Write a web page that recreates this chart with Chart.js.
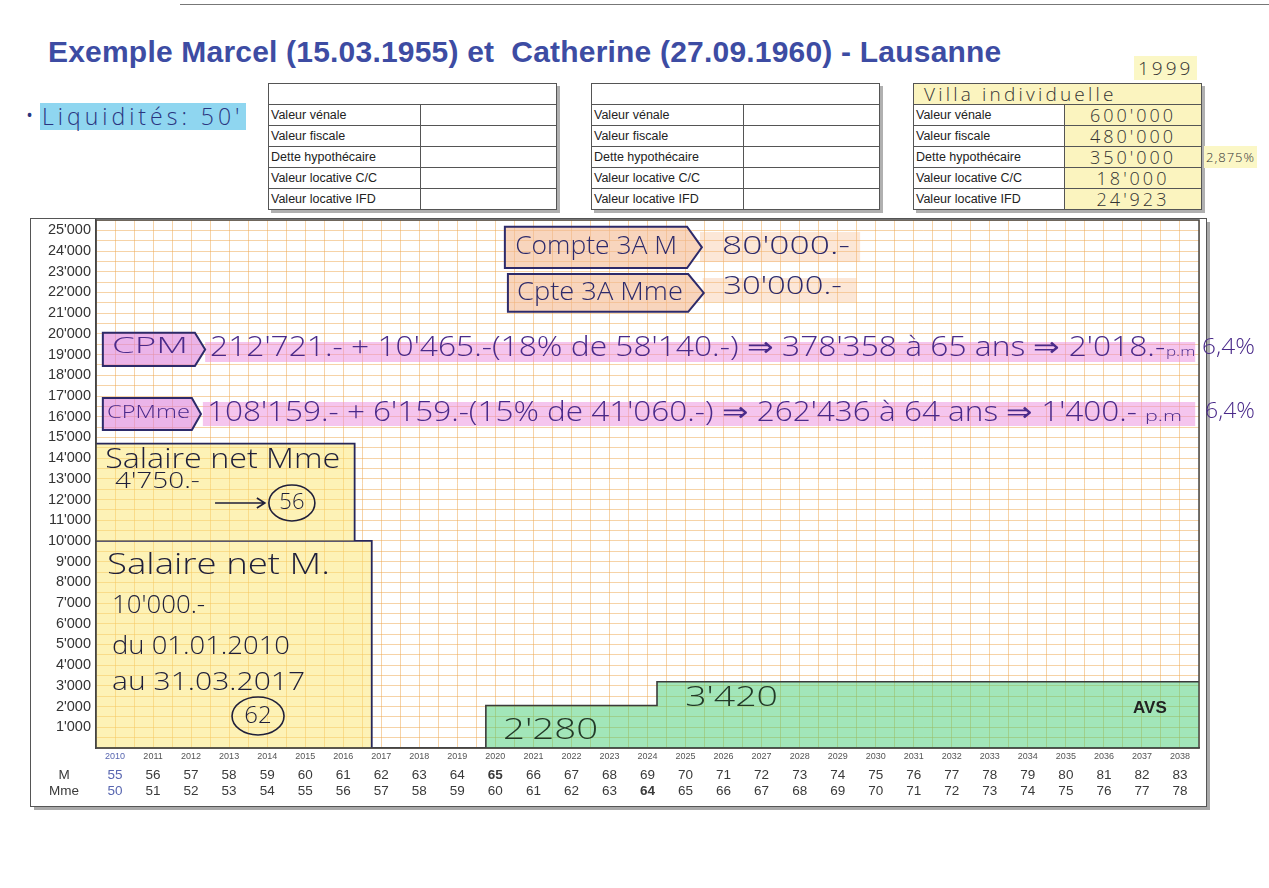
<!DOCTYPE html>
<html><head><meta charset="utf-8">
<script src="https://cdn.jsdelivr.net/npm/chart.js@4.4.1/dist/chart.umd.min.js"></script>
<style>
html,body{margin:0;padding:0;background:#fff;}
body{width:1269px;height:888px;position:relative;overflow:hidden;font-family:"Liberation Sans",Arial,sans-serif;}
#c{position:absolute;left:0;top:0;z-index:2;pointer-events:none;}
.edge{position:absolute;left:180px;top:4px;width:1089px;height:0;border-top:1px solid #777;}
.title{position:absolute;left:48px;top:35px;font-weight:bold;font-size:30px;color:#3d4ca3;white-space:pre;letter-spacing:0.2px;}
table.t{position:absolute;border-collapse:collapse;box-shadow:3px 3px 0 #b0b0b0;background:#fff;table-layout:fixed;}
table.t td{border:1px solid #555;height:20px;padding:0 2px;font-size:12.5px;color:#222;line-height:20px;white-space:nowrap;overflow:hidden;}
.hw{font-family:"Open Sans","DejaVu Sans",sans-serif;font-weight:300;color:#333;white-space:nowrap;}
.abs{position:absolute;}
td.y{background:#fbf4bf;}
td.v{text-align:center;font-family:"Open Sans","DejaVu Sans",sans-serif;font-weight:300;font-size:18px !important;letter-spacing:3px;color:#333 !important;}
</style></head>
<body>
<div class="edge"></div>
<div class="title">Exemple Marcel (15.03.1955) et  Catherine (27.09.1960) - Lausanne</div>
<div class="abs hw" style="left:1134px;top:56px;font-size:19px;letter-spacing:3px;background:#fbf7c6;padding:0 4px;line-height:24px;">1999</div>
<div class="abs hw" style="left:25px;top:100px;font-size:24px;color:#2a3580;line-height:30px;">•</div>
<div class="abs hw" style="left:40px;top:103px;font-size:23px;letter-spacing:4px;color:#2a3580;background:#8fd6f0;line-height:27px;padding:0 2px 0 2px;">Liquidités: 50'</div>

<table class="t" style="left:268px;top:83px;width:288px;">
<colgroup><col style="width:152px"><col style="width:136px"></colgroup>
<tr><td colspan="2"></td></tr>
<tr><td>Valeur vénale</td><td></td></tr>
<tr><td>Valeur fiscale</td><td></td></tr>
<tr><td>Dette hypothécaire</td><td></td></tr>
<tr><td>Valeur locative C/C</td><td></td></tr>
<tr><td>Valeur locative IFD</td><td></td></tr>
</table>
<table class="t" style="left:591px;top:83px;width:288px;">
<colgroup><col style="width:152px"><col style="width:136px"></colgroup>
<tr><td colspan="2"></td></tr>
<tr><td>Valeur vénale</td><td></td></tr>
<tr><td>Valeur fiscale</td><td></td></tr>
<tr><td>Dette hypothécaire</td><td></td></tr>
<tr><td>Valeur locative C/C</td><td></td></tr>
<tr><td>Valeur locative IFD</td><td></td></tr>
</table>
<table class="t" style="left:913px;top:83px;width:288px;">
<colgroup><col style="width:151px"><col style="width:137px"></colgroup>
<tr><td colspan="2" class="y hw" style="font-size:19px;letter-spacing:3.2px;color:#333;padding-left:10px;">Villa individuelle</td></tr>
<tr><td>Valeur vénale</td><td class="y v">600'000</td></tr>
<tr><td>Valeur fiscale</td><td class="y v">480'000</td></tr>
<tr><td>Dette hypothécaire</td><td class="y v">350'000</td></tr>
<tr><td>Valeur locative C/C</td><td class="y v">18'000</td></tr>
<tr><td>Valeur locative IFD</td><td class="y v">24'923</td></tr>
</table>
<div class="abs hw" style="left:1204px;top:146px;font-size:13px;letter-spacing:1px;background:#fbf7c6;padding:0 2px;line-height:22px;">2,875%</div>

<canvas id="c" width="1269" height="888" style="width:1269px;height:888px;"></canvas>
<script>
// ---- data ----
const years  = [2010,2011,2012,2013,2014,2015,2016,2017,2018,2019,2020,2021,2022,2023,2024,2025,2026,2027,2028,2029,2030,2031,2032,2033,2034,2035,2036,2037,2038];
const ageM   = [55,56,57,58,59,60,61,62,63,64,65,66,67,68,69,70,71,72,73,74,75,76,77,78,79,80,81,82,83];
const ageMme = [50,51,52,53,54,55,56,57,58,59,60,61,62,63,64,65,66,67,68,69,70,71,72,73,74,75,76,77,78];
const salaireMPeriod   = [2010, 2017.25];   // du 01.01.2010 au 31.03.2017
const salaireMValue    = 10000;
const salaireMmePeriod = [2010, 2016.8];
const salaireMmeTop    = 14700;             // stacked on M salary
const avsBreaks        = [2020.25, 2024.75, 2039];
const avsValues        = [2050, 3200];
const yMin = 0, yMax = 25500;

const FONT = '"Liberation Sans", Arial, sans-serif';
const HWF = '"Open Sans", "DejaVu Sans", sans-serif';
const GRID = 'rgba(238,168,80,0.5)';

function fmt(v){ const s=String(v); return s.length>3 ? s.slice(0,-3)+"'"+s.slice(-3) : s; }

const halfSteps=[]; for(let v=years[0]; v<=years[years.length-1]+1; v+=0.5) halfSteps.push(v);
const ySteps=[]; for(let v=yMin; v<=yMax; v+=500) ySteps.push(v);

const dataM = [
  {x:salaireMPeriod[0], y:salaireMValue},
  {x:salaireMPeriod[1], y:salaireMValue},
  {x:salaireMPeriod[1], y:0}
];
const dataMme = [
  {x:salaireMmePeriod[0], y:salaireMmeTop},
  {x:salaireMmePeriod[1], y:salaireMmeTop},
  {x:salaireMmePeriod[1], y:salaireMValue}
];
const dataAVS = [
  {x:avsBreaks[0], y:0},
  {x:avsBreaks[0], y:avsValues[0]},
  {x:avsBreaks[1], y:avsValues[0]},
  {x:avsBreaks[1], y:avsValues[1]},
  {x:avsBreaks[2], y:avsValues[1]}
];

function hand(ctx, text, x1, x2, yc, size, color, weight){
  ctx.save();
  ctx.font = (weight||'300')+' '+size+'px '+HWF;
  const w = ctx.measureText(text).width;
  ctx.translate(x1, yc);
  ctx.scale((x2-x1)/w, 1);
  ctx.fillStyle = color; ctx.textBaseline='middle'; ctx.textAlign='left';
  ctx.fillText(text, 0, 0);
  ctx.restore();
}

const frame = {
  id:'frame',
  beforeDraw(chart){
    const ctx=chart.ctx, a=chart.chartArea;
    const l=a.left-66, t=a.top-2, r=a.right+7, b=a.bottom+58;
    ctx.save();
    ctx.fillStyle='#a9a9a9';
    ctx.fillRect(l+4, t+4, r-l, b-t);
    ctx.fillStyle='#fff';
    ctx.fillRect(l, t, r-l, b-t);
    ctx.strokeStyle='#555'; ctx.lineWidth=1;
    ctx.strokeRect(l+0.5, t+0.5, r-l, b-t);
    ctx.restore();
  },
  afterDraw(chart){
    const ctx=chart.ctx, a=chart.chartArea;
    ctx.save();
    ctx.strokeStyle='#444'; ctx.lineWidth=1.5;
    ctx.strokeRect(a.left, a.top, a.right-a.left, a.bottom-a.top);
    ctx.fillStyle='#3a3a3a'; ctx.font='13.5px '+FONT; ctx.textAlign='center'; ctx.textBaseline='middle';
    const sM=chart.scales.xM, sF=chart.scales.xMme;
    ctx.fillText('M', a.left-32, (sM.top+sM.bottom)/2+1);
    ctx.fillText('Mme', a.left-32, (sF.top+sF.bottom)/2+1);
    ctx.restore();
  }
};

const notes = {
  id:'notes',
  afterDatasetsDraw(chart){
    const ctx=chart.ctx;
    const X=v=>chart.scales.x.getPixelForValue(v), Y=v=>chart.scales.y.getPixelForValue(v);
    function band(x1,x2,y1,y2,col){ ctx.fillStyle=col; ctx.fillRect(X(x1),Y(y1),X(x2)-X(x1),Y(y2)-Y(y1)); }
    function tag(x1,x2,xt,y1,y2,fill){
      const l=X(x1), r=X(x2), tp=X(xt), t=Y(y1), b=Y(y2);
      ctx.beginPath(); ctx.moveTo(l,t); ctx.lineTo(r,t); ctx.lineTo(tp,(t+b)/2); ctx.lineTo(r,b); ctx.lineTo(l,b); ctx.closePath();
      ctx.fillStyle=fill; ctx.fill(); ctx.strokeStyle='#2d2a6a'; ctx.lineWidth=2; ctx.stroke();
    }
    const T=(s,x1,x2,yv,size,col,w)=>hand(ctx,s,X(x1),X(x2),Y(yv),size,col,w);
    ctx.save();
    // highlights
    band(2025.88,2030.09,24920,23470,'rgba(245,185,140,0.35)');
    band(2025.95,2030.0,22698,21539,'rgba(245,185,140,0.35)');
    band(2012.87,2038.9,19608,18642,'rgba(236,140,222,0.5)');
    band(2012.81,2038.9,16710,15551,'rgba(236,140,222,0.5)');
    // tags
    tag(2020.75,2025.54,2025.93,25176,23182,'rgba(244,185,145,0.6)');
    tag(2020.83,2025.57,2025.98,22892,21066,'rgba(244,185,145,0.6)');
    tag(2010.18,2012.60,2012.87,20052,18449,'rgba(222,130,218,0.6)');
    tag(2010.18,2012.52,2012.76,16903,15358,'rgba(222,130,218,0.6)');
    const navy='#2d2a6a', purple='#4a2a8a', ink='#1f1f3a', green='#233a28';
    T("Compte 3A M",2021.02,2025.28,24196,26,navy);
    T("80'000.-",2026.46,2029.82,24196,26,navy);
    T("Cpte 3A Mme",2021.07,2025.43,21974,26,navy);
    T("30'000.-",2026.49,2029.61,22264,26,navy);
    T("CPM",2010.42,2012.42,19366,22,purple);
    T("212'721.- + 10'465.-(18% de 58'140.-) ⇒ 378'358 à 65 ans ⇒ 2'018.-",2013.0,2038.11,19318,27,purple);
    T("p.m",2038.13,2038.9,19125,13,purple);
    T("6,4%",2039.08,2040.47,19318,22,purple);
    T("CPMme",2010.29,2012.47,16179,19,purple);
    T("108'159.- + 6'159.-(15% de 41'060.-) ⇒ 262'436 à 64 ans ⇒ 1'400.-",2012.92,2037.37,16179,27,purple);
    T("p.m",2037.58,2038.55,15986,14,purple);
    T("6,4%",2039.16,2040.47,16227,22,purple);
    T("Salaire net Mme",2010.24,2016.42,13909,27,ink);
    T("4'750.-",2010.50,2012.73,12847,22,ink);
    T("Salaire net M.",2010.29,2016.15,8838,30,ink);
    T("10'000.-",2010.42,2012.87,6858,25,ink);
    T("du 01.01.2010",2010.42,2015.10,4878,25,ink);
    T("au 31.03.2017",2010.42,2015.50,3139,25,ink);
    // arrow -> 56
    ctx.strokeStyle=ink; ctx.lineWidth=1.6;
    const ay=Y(11832);
    ctx.beginPath(); ctx.moveTo(X(2013.13),ay); ctx.lineTo(X(2014.44),ay);
    ctx.moveTo(X(2014.44)-8,ay-5); ctx.lineTo(X(2014.44),ay); ctx.lineTo(X(2014.44)-8,ay+5); ctx.stroke();
    ctx.beginPath(); ctx.ellipse(X(2015.15),ay,23,18,0,0,Math.PI*2); ctx.stroke();
    T("56",2015.15-0.33,2015.15+0.33,11832,22,ink);
    const cy=Y(1545);
    ctx.beginPath(); ctx.ellipse(X(2014.26),cy,26,19,0,0,Math.PI*2); ctx.stroke();
    T("62",2014.26-0.36,2014.26+0.36,1545,24,ink);
    // AVS
    T("2'280",2020.70,2023.20,869,30,green);
    T("3'420",2025.49,2027.93,2415,28,green);
    ctx.fillStyle='#222'; ctx.font='bold 17px '+FONT; ctx.textAlign='center'; ctx.textBaseline='middle';
    ctx.fillText('AVS', X(2037.71), Y(1932));
    ctx.restore();
  }
};

const ageAxis = (ages, boldAge, weight) => ({
  type:'linear', position:'bottom', min:years[0], max:years[years.length-1]+1, weight,
  afterBuildTicks: s => { s.ticks = years.map(y=>({value:y+0.5})); },
  afterFit: s => { s.height = 16; },
  grid:{display:false, drawTicks:false}, border:{display:false},
  ticks:{autoSkip:false, maxRotation:0, padding:1,
    color: c => c.index===0 ? '#5866b0' : '#3a3a3a',
    font: c => ({size:13.5, family:FONT, weight: ages[c.index]===boldAge ? 'bold' : 'normal'}),
    callback: (v,i) => String(ages[i])
  }
});

new Chart(document.getElementById('c'), {
  type:'line',
  data:{ datasets:[
    {label:'Salaire net Mme', data:dataMme, fill:{value:salaireMValue}, backgroundColor:'rgba(252,230,110,0.5)', borderColor:'#26265a', borderWidth:1.8, pointRadius:0, tension:0},
    {label:'Salaire net M.', data:dataM, fill:'origin', backgroundColor:'rgba(252,230,110,0.5)', borderColor:'#26265a', borderWidth:1.8, pointRadius:0, tension:0},
    {label:'AVS', data:dataAVS, fill:'origin', backgroundColor:'rgba(70,205,115,0.5)', borderColor:'#3a3a3a', borderWidth:1.6, pointRadius:0, tension:0}
  ]},
  options:{
    responsive:false, animation:false, devicePixelRatio:1,
    layout:{padding:{left:30, right:70, top:220, bottom:90}},
    plugins:{legend:{display:false}, tooltip:{enabled:false}},
    scales:{
      x:{ type:'linear', position:'bottom', min:years[0], max:years[years.length-1]+1, weight:0,
        afterBuildTicks: s => { s.ticks = halfSteps.map(v=>({value:v})); },
        afterFit: s => { s.height = 18; },
        grid:{color:GRID, lineWidth:1, drawTicks:false},
        border:{color:'#444', width:1.5},
        ticks:{autoSkip:false, maxRotation:0, padding:3,
          font:{size:9, family:FONT},
          color: c => c.tick && c.tick.value===years[0]+0.5 ? '#5866b0' : '#555',
          callback: v => { const i = years.indexOf(v-0.5); return i>=0 ? String(years[i]) : ''; }
        }
      },
      xM: ageAxis(ageM, 65, 1),
      xMme: ageAxis(ageMme, 64, 2),
      y:{ min:yMin, max:yMax,
        afterBuildTicks: s => { s.ticks = ySteps.map(v=>({value:v})); },
        afterFit: s => { s.width = 66; },
        grid:{color:GRID, lineWidth:1, drawTicks:false},
        border:{color:'#444', width:1.5},
        ticks:{autoSkip:false, padding:5, color:'#333', font:{size:14.5, family:FONT},
          callback: v => (v>0 && v%1000===0) ? fmt(v) : ''
        }
      }
    }
  },
  plugins:[frame, notes]
});
</script>
</body></html>
